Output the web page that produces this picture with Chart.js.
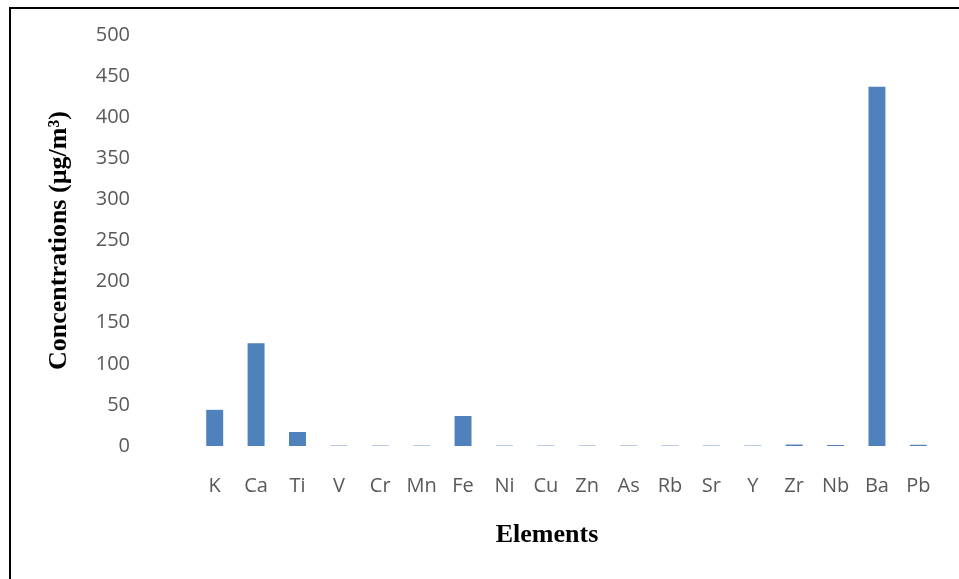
<!DOCTYPE html>
<html>
<head>
<meta charset="utf-8">
<script src="https://cdn.jsdelivr.net/npm/chart.js@4"></script>
<style>
  body { margin: 0; background: #fff; overflow: hidden; }
  #frame { position: absolute; left: 9px; top: 7px; width: 980px; height: 620px; border: 2px solid #000; }
  #wrap { position: absolute; left: 0; top: 0; width: 959px; height: 579px; }
</style>
</head>
<body>
<div id="frame"></div>
<div id="wrap"><canvas id="myChart" width="959" height="579"></canvas></div>
<script>
const elements = ["K","Ca","Ti","V","Cr","Mn","Fe","Ni","Cu","Zn","As","Rb","Sr","Y","Zr","Nb","Ba","Pb"];
const concentrations = [44, 125, 17, 0.5, 0.5, 0.5, 36.5, 0.5, 0.5, 0.5, 0.5, 0.5, 0.5, 0.5, 1.8, 1.2, 437, 1.5];

const grey = '#595959';
const titleFont = { family: "'Liberation Serif', 'Times New Roman', serif", size: 26, weight: 'bold' };
const tickFont = { family: "'Open Sans', sans-serif", size: 20 };

const data = {
  labels: elements,
  datasets: [{
    label: 'Concentration',
    backgroundColor: '#4F81BD',
    borderWidth: 0,
    data: concentrations,
    barPercentage: 0.82,
    categoryPercentage: 0.5
  }]
};

const config = {
  type: 'bar',
  data: data,
  options: {
    responsive: false,
    animation: false,
    layout: { padding: { left: 12, right: 19, top: 35, bottom: 0 } },
    plugins: {
      legend: { display: false },
      tooltip: { enabled: false }
    },
    scales: {
      x: {
        grid: { display: false, drawTicks: false },
        border: { display: false },
        ticks: { color: grey, font: tickFont, padding: 28, maxRotation: 0 },
        title: { display: true, text: 'Elements      ', color: '#000', font: titleFont, padding: { top: 0, bottom: 28 } },
        afterFit: (s) => { s.height = 133; }
      },
      y: {
        min: 0,
        max: 500,
        grid: { display: false, drawTicks: false },
        border: { display: false },
        ticks: { stepSize: 50, color: grey, font: tickFont, padding: 64 },
        title: { display: true, text: 'Concentrations (µg/m³)', color: '#000', font: titleFont, padding: { top: 32, bottom: 0 } },
        afterFit: (s) => { s.width = 182; s.paddingTop = 0; s.paddingBottom = 0; }
      }
    }
  }
};

const myChart = new Chart(
  document.getElementById('myChart'),
  config
);
</script>
</body>
</html>
